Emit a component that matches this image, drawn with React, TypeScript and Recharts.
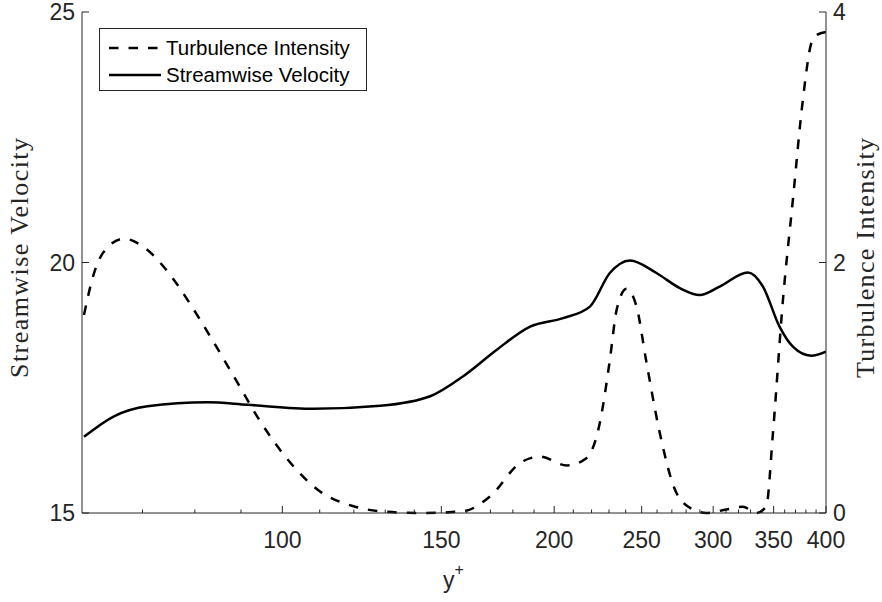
import { ComposedChart, Line, XAxis, YAxis, Legend, Label } from "recharts";

const AXIS = "#262626";
const SANS = "'Liberation Sans', Arial, Helvetica, sans-serif";
const SERIF = "'Liberation Serif', 'Times New Roman', serif";

// y+ positions (log axis)
const xMajor = [100, 150, 200, 250, 300, 350, 400];
const xTicks = [
  70, 80, 90, 100, 110, 120, 130, 140, 150, 160, 170, 180, 190, 200, 210, 220,
  230, 240, 250, 260, 270, 280, 290, 300, 310, 320, 330, 340, 350, 360, 370,
  380, 390, 400,
];
const velocityTicks = [15, 20, 25];
const intensityTicks = [0, 2, 4];
const legendOrder = ["Turbulence Intensity", "Streamwise Velocity"];

// streamwise velocity (left axis)
const velocityX = [
  60.3, 65.1, 70.9, 82.6, 91.5, 108.3, 128.4, 145.8, 158.6, 172.8, 188.1, 204.6,
  219.1, 230.5, 242.6, 259.6, 275.5, 289.9, 305, 327.8, 340.6, 355.3, 367.6,
  385.2, 400,
];
const velocityY = [
  16.52, 16.93, 17.13, 17.21, 17.16, 17.08, 17.14, 17.33, 17.73, 18.26, 18.72,
  18.89, 19.12, 19.79, 20.04, 19.79, 19.49, 19.35, 19.52, 19.8, 19.52, 18.72,
  18.32, 18.14, 18.22,
];

// turbulence intensity (right axis)
const intensityX = [
  60.3, 61.9, 63.5, 66.8, 69.7, 74.6, 79.2, 84, 89.2, 93.8, 101.3, 110.2, 119.9,
  128.4, 142.2, 158.6, 169.9, 183.4, 192.9, 206.5, 217.3, 224.7, 230.5, 234.5,
  240.5, 246.7, 253.1, 261.8, 273.2, 285, 294.9, 310.2, 323.6, 334.9, 343.5,
  349.4, 358.4, 367.6, 377.1, 385.2, 389.4, 400,
];
const intensityY = [
  1.58, 1.92, 2.09, 2.19, 2.14, 1.93, 1.66, 1.36, 1.04, 0.77, 0.43, 0.17, 0.054,
  0.014, 0, 0.014, 0.134, 0.4, 0.45, 0.38, 0.44, 0.72, 1.22, 1.62, 1.79, 1.65,
  1.2, 0.64, 0.16, 0.028, 0, 0.028, 0.05, 0, 0.054, 0.64, 1.7, 2.5, 3.3, 3.75,
  3.81, 3.84,
];

const velocityData = velocityX.map((x, i) => ({ x, y: velocityY[i] }));
const intensityData = intensityX.map((x, i) => ({ x, y: intensityY[i] }));

function BottomTick(props: any) {
  const { x, y, payload } = props;
  const major = xMajor.includes(payload.value);
  return (
    <g>
      <line x1={x} x2={x} y1={y} y2={y - (major ? 7 : 3.5)} stroke={AXIS} />
      {major && (
        <text x={x} y={y + 35} textAnchor="middle" fill={AXIS} fontSize={23} fontFamily={SANS}>
          {payload.value}
        </text>
      )}
    </g>
  );
}

function TopTick(props: any) {
  const { x, y, payload } = props;
  const major = xMajor.includes(payload.value);
  return <line x1={x} x2={x} y1={y} y2={y + (major ? 7 : 3.5)} stroke={AXIS} />;
}

function LeftTick(props: any) {
  const { x, y, payload } = props;
  return (
    <g>
      <line x1={x} x2={x + 7} y1={y} y2={y} stroke={AXIS} />
      <text x={x - 7} y={y} dy="0.36em" textAnchor="end" fill={AXIS} fontSize={23} fontFamily={SANS}>
        {payload.value}
      </text>
    </g>
  );
}

function RightTick(props: any) {
  const { x, y, payload } = props;
  return (
    <g>
      <line x1={x} x2={x - 7} y1={y} y2={y} stroke={AXIS} />
      <text x={x + 7} y={y} dy="0.36em" textAnchor="start" fill={AXIS} fontSize={23} fontFamily={SANS}>
        {payload.value}
      </text>
    </g>
  );
}

function LegendBox({ payload }: any) {
  const items = [...(payload || [])].sort(
    (a: any, b: any) => legendOrder.indexOf(a.value) - legendOrder.indexOf(b.value)
  );
  return (
    <div
      style={{
        width: 268,
        height: 63,
        boxSizing: "border-box",
        border: `1px solid ${AXIS}`,
        background: "#fff",
      }}
    >
      <svg width={266} height={61}>
        {items.map((item: any, i: number) => (
          <g key={item.value}>
            <line
              x1={9}
              x2={61}
              y1={19 + i * 27}
              y2={19 + i * 27}
              stroke="#000"
              strokeWidth={2.5}
              strokeDasharray={item.payload?.strokeDasharray}
            />
            <text x={66} y={19 + i * 27} dy="0.36em" fontSize={20.5} fontFamily={SANS} fill="#000">
              {item.value}
            </text>
          </g>
        ))}
      </svg>
    </div>
  );
}

export default function App() {
  return (
    <div style={{ position: "absolute", left: 0, top: 0, background: "#fff" }}>
      <ComposedChart width={882} height={602} margin={{ top: 12, right: 6, bottom: 29, left: 22 }}>
        <XAxis
          xAxisId="bottom"
          dataKey="x"
          type="number"
          scale="log"
          domain={[60, 400]}
          allowDataOverflow
          ticks={xTicks}
          interval={0}
          tickSize={0}
          tickMargin={0}
          tickLine={false}
          height={60}
          stroke={AXIS}
          tick={<BottomTick />}
        >
          <Label
            content={() => (
              <text x={443} y={588} fill={AXIS} fontSize={23} fontFamily={SANS}>
                y
                <tspan dy={-13} fontSize={16}>
                  +
                </tspan>
              </text>
            )}
          />
        </XAxis>
        <XAxis
          xAxisId="top"
          orientation="top"
          dataKey="x"
          type="number"
          scale="log"
          domain={[60, 400]}
          allowDataOverflow
          ticks={xTicks}
          interval={0}
          tickSize={0}
          tickMargin={0}
          tickLine={false}
          height={0}
          stroke={AXIS}
          tick={<TopTick />}
        />
        <YAxis
          yAxisId="v"
          orientation="left"
          type="number"
          domain={[15, 25]}
          ticks={velocityTicks}
          interval={0}
          tickSize={0}
          tickMargin={0}
          tickLine={false}
          width={60}
          stroke={AXIS}
          tick={<LeftTick />}
        >
          <Label
            content={() => (
              <text
                transform="translate(28,258) rotate(-90)"
                textAnchor="middle"
                fill={AXIS}
                fontSize={26}
                fontFamily={SERIF}
                textLength={240}
                lengthAdjust="spacing"
              >
                Streamwise Velocity
              </text>
            )}
          />
        </YAxis>
        <YAxis
          yAxisId="t"
          orientation="right"
          type="number"
          domain={[0, 4]}
          ticks={intensityTicks}
          interval={0}
          tickSize={0}
          tickMargin={0}
          tickLine={false}
          width={50}
          stroke={AXIS}
          tick={<RightTick />}
        >
          <Label
            content={() => (
              <text
                transform="translate(874,258) rotate(-90)"
                textAnchor="middle"
                fill={AXIS}
                fontSize={26}
                fontFamily={SERIF}
                textLength={240}
                lengthAdjust="spacing"
              >
                Turbulence Intensity
              </text>
            )}
          />
        </YAxis>
        <Legend
          layout="vertical"
          align="center"
          verticalAlign="middle"
          wrapperStyle={{ left: 99, top: 28, width: 268 }}
          content={<LegendBox />}
        />
        <Line
          name="Turbulence Intensity"
          data={intensityData}
          xAxisId="bottom"
          yAxisId="t"
          dataKey="y"
          type="monotone"
          stroke="#000"
          strokeWidth={2.5}
          strokeDasharray="9.5 10"
          dot={false}
          activeDot={false}
          isAnimationActive={false}
        />
        <Line
          name="Streamwise Velocity"
          data={velocityData}
          xAxisId="bottom"
          yAxisId="v"
          dataKey="y"
          type="monotone"
          stroke="#000"
          strokeWidth={2.5}
          dot={false}
          activeDot={false}
          isAnimationActive={false}
        />
      </ComposedChart>
    </div>
  );
}
